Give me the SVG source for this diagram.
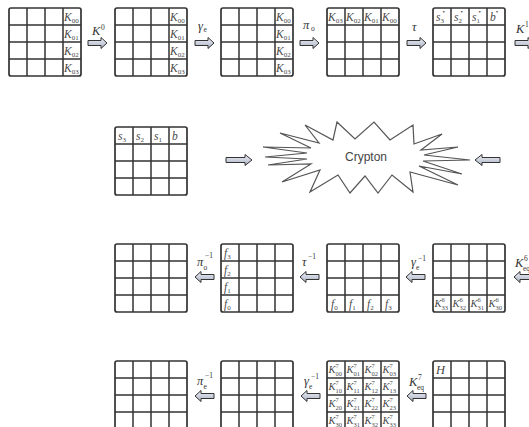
<svg xmlns="http://www.w3.org/2000/svg" xmlns:xlink="http://www.w3.org/1999/xlink" width="529" height="427" viewBox="0 0 529 427">
<style>
.k{font-family:"Liberation Serif",serif;font-style:italic;font-size:11.5px;fill:#4a4a4a}
.k7{font-family:"Liberation Serif",serif;font-style:italic;font-size:10.5px;fill:#4a4a4a}
.s{font-family:"Liberation Serif",serif;font-style:normal;font-size:7px;fill:#4a4a4a}
.s7{font-family:"Liberation Serif",serif;font-style:normal;font-size:6.5px;fill:#4a4a4a}
.l{font-family:"Liberation Serif",serif;font-style:italic;font-size:12.5px;fill:#333}
.ls{font-family:"Liberation Serif",serif;font-style:normal;font-size:7.5px;fill:#333}
.cr{font-family:"Liberation Sans",Arial,sans-serif;font-size:12px;fill:#444}
</style>
<defs>
<linearGradient id="ag" x1="0" y1="0" x2="0" y2="1"><stop offset="0" stop-color="#eef1f7"/><stop offset="1" stop-color="#a9b1c3"/></linearGradient>
<g id="grid"><rect x="0" y="0" width="72" height="68" rx="2" fill="#fff" stroke="#333" stroke-width="1.7"/><path d="M18 0V68M36 0V68M54 0V68M0 17H72M0 34H72M0 51H72" fill="none" stroke="#333" stroke-width="1.5"/></g>
<path id="aR" d="M0,-2.5H13V-5.5L19,0L13,5.5V2.5H0Z" fill="url(#ag)" stroke="#333" stroke-width="1"/>
<path id="aRL" d="M0,-2.5H19V-5.5L26,0L19,5.5V2.5H0Z" fill="url(#ag)" stroke="#333" stroke-width="1"/>
<path id="aL" d="M0,0L6,-5.5V-2.5H19V2.5H6V5.5Z" fill="url(#ag)" stroke="#333" stroke-width="1"/>
<path id="aLL" d="M0,0L7,-5.5V-2.5H25V2.5H7V5.5Z" fill="url(#ag)" stroke="#333" stroke-width="1"/>
</defs>
<rect width="529" height="427" fill="#fff"/>

<g id="g1"><use xlink:href="#grid" x="9" y="8"/>
<text class="k" x="64" y="20.5">K<tspan class="s" dy="2.5">00</tspan></text>
<text class="k" x="64" y="37.5">K<tspan class="s" dy="2.5">01</tspan></text>
<text class="k" x="64" y="54.5">K<tspan class="s" dy="2.5">02</tspan></text>
<text class="k" x="64" y="71.5">K<tspan class="s" dy="2.5">03</tspan></text>
</g>
<g id="g2"><use xlink:href="#grid" x="115" y="8"/>
<text class="k" x="170" y="20.5">K<tspan class="s" dy="2.5">00</tspan></text>
<text class="k" x="170" y="37.5">K<tspan class="s" dy="2.5">01</tspan></text>
<text class="k" x="170" y="54.5">K<tspan class="s" dy="2.5">02</tspan></text>
<text class="k" x="170" y="71.5">K<tspan class="s" dy="2.5">03</tspan></text>
</g>
<g id="g3"><use xlink:href="#grid" x="221" y="8"/>
<text class="k" x="276" y="20.5">K<tspan class="s" dy="2.5">00</tspan></text>
<text class="k" x="276" y="37.5">K<tspan class="s" dy="2.5">01</tspan></text>
<text class="k" x="276" y="54.5">K<tspan class="s" dy="2.5">02</tspan></text>
<text class="k" x="276" y="71.5">K<tspan class="s" dy="2.5">03</tspan></text>
</g>
<g id="g4"><use xlink:href="#grid" x="327" y="8"/>
<text class="k" x="328" y="20.5">K<tspan class="s" dy="2.5">03</tspan></text>
<text class="k" x="346" y="20.5">K<tspan class="s" dy="2.5">02</tspan></text>
<text class="k" x="364" y="20.5">K<tspan class="s" dy="2.5">01</tspan></text>
<text class="k" x="382" y="20.5">K<tspan class="s" dy="2.5">00</tspan></text>
</g>
<g id="g5"><use xlink:href="#grid" x="433" y="8"/>
<text class="k" x="436" y="20.5">s<tspan class="s" dy="2.5">3</tspan><tspan class="s" dx="-1.5" dy="-9">•</tspan></text>
<text class="k" x="454" y="20.5">s<tspan class="s" dy="2.5">2</tspan><tspan class="s" dx="-1.5" dy="-9">•</tspan></text>
<text class="k" x="472" y="20.5">s<tspan class="s" dy="2.5">1</tspan><tspan class="s" dx="-1.5" dy="-9">•</tspan></text>
<text class="k" x="490" y="20.5">b<tspan class="s" dy="-6.5">•</tspan></text>
</g>

<g id="g6"><use xlink:href="#grid" x="115" y="127"/>
<text class="k" x="118" y="139.5">s<tspan class="s" dy="2.5">3</tspan></text>
<text class="k" x="136" y="139.5">s<tspan class="s" dy="2.5">2</tspan></text>
<text class="k" x="154" y="139.5">s<tspan class="s" dy="2.5">1</tspan></text>
<text class="k" x="172" y="139.5">b</text>
</g>
<g id="crypton">
<polygon points="337,122 355,139 374,122 390,140 413,125 414,144 442,134 421,150 458,147 424,155 470,160 423,161 462,174 419,166 458,185 410,172 413,192 392,175 378,193 365,176 350,193 338,175 310,192 320,170 282,182 311,164 268,165 307,159 265,157 307,153 263,147 311,148 280,133 319,143 305,125 333,140" fill="#fff" stroke="#555" stroke-width="1.2" stroke-linejoin="miter"/>
<text class="cr" x="366" y="161" text-anchor="middle">Crypton</text>
</g>

<g id="g7"><use xlink:href="#grid" x="115" y="244"/></g>
<g id="g8"><use xlink:href="#grid" x="221" y="244"/>
<text class="k" x="224" y="256.5">f<tspan class="s" dy="2.5">3</tspan></text>
<text class="k" x="224" y="273.5">f<tspan class="s" dy="2.5">2</tspan></text>
<text class="k" x="224" y="290.5">f<tspan class="s" dy="2.5">1</tspan></text>
<text class="k" x="224" y="307.5">f<tspan class="s" dy="2.5">0</tspan></text>
</g>
<g id="g9"><use xlink:href="#grid" x="327" y="244"/>
<text class="k" x="331" y="307.5">f<tspan class="s" dy="2.5">0</tspan></text>
<text class="k" x="349" y="307.5">f<tspan class="s" dy="2.5">1</tspan></text>
<text class="k" x="367" y="307.5">f<tspan class="s" dy="2.5">2</tspan></text>
<text class="k" x="385" y="307.5">f<tspan class="s" dy="2.5">3</tspan></text>
</g>
<g id="g10"><use xlink:href="#grid" x="433" y="244"/>
<text class="k7" x="434.5" y="307">K</text><text class="s7" x="441.5" y="302">6</text><text class="s7" x="441.5" y="310">33</text>
<text class="k7" x="452.5" y="307">K</text><text class="s7" x="459.5" y="302">6</text><text class="s7" x="459.5" y="310">32</text>
<text class="k7" x="470.5" y="307">K</text><text class="s7" x="477.5" y="302">6</text><text class="s7" x="477.5" y="310">31</text>
<text class="k7" x="488.5" y="307">K</text><text class="s7" x="495.5" y="302">6</text><text class="s7" x="495.5" y="310">30</text>
</g>

<g id="g11"><use xlink:href="#grid" x="115" y="361"/></g>
<g id="g12"><use xlink:href="#grid" x="221" y="361"/></g>
<g id="g13"><use xlink:href="#grid" x="327" y="361"/>
<text class="k7" x="328.5" y="373">K</text><text class="s7" x="335.5" y="368">7</text><text class="s7" x="335.5" y="376">00</text>
<text class="k7" x="346.5" y="373">K</text><text class="s7" x="353.5" y="368">7</text><text class="s7" x="353.5" y="376">01</text>
<text class="k7" x="364.5" y="373">K</text><text class="s7" x="371.5" y="368">7</text><text class="s7" x="371.5" y="376">02</text>
<text class="k7" x="382.5" y="373">K</text><text class="s7" x="389.5" y="368">7</text><text class="s7" x="389.5" y="376">03</text>
<text class="k7" x="328.5" y="390">K</text><text class="s7" x="335.5" y="385">7</text><text class="s7" x="335.5" y="393">10</text>
<text class="k7" x="346.5" y="390">K</text><text class="s7" x="353.5" y="385">7</text><text class="s7" x="353.5" y="393">11</text>
<text class="k7" x="364.5" y="390">K</text><text class="s7" x="371.5" y="385">7</text><text class="s7" x="371.5" y="393">12</text>
<text class="k7" x="382.5" y="390">K</text><text class="s7" x="389.5" y="385">7</text><text class="s7" x="389.5" y="393">13</text>
<text class="k7" x="328.5" y="407">K</text><text class="s7" x="335.5" y="402">7</text><text class="s7" x="335.5" y="410">20</text>
<text class="k7" x="346.5" y="407">K</text><text class="s7" x="353.5" y="402">7</text><text class="s7" x="353.5" y="410">21</text>
<text class="k7" x="364.5" y="407">K</text><text class="s7" x="371.5" y="402">7</text><text class="s7" x="371.5" y="410">22</text>
<text class="k7" x="382.5" y="407">K</text><text class="s7" x="389.5" y="402">7</text><text class="s7" x="389.5" y="410">23</text>
<text class="k7" x="328.5" y="424">K</text><text class="s7" x="335.5" y="419">7</text><text class="s7" x="335.5" y="427">30</text>
<text class="k7" x="346.5" y="424">K</text><text class="s7" x="353.5" y="419">7</text><text class="s7" x="353.5" y="427">31</text>
<text class="k7" x="364.5" y="424">K</text><text class="s7" x="371.5" y="419">7</text><text class="s7" x="371.5" y="427">32</text>
<text class="k7" x="382.5" y="424">K</text><text class="s7" x="389.5" y="419">7</text><text class="s7" x="389.5" y="427">33</text>
</g>
<g id="g14"><use xlink:href="#grid" x="433" y="361"/>
<text class="k" x="436" y="374" style="font-size:12.5px">H</text>
</g>

<g id="connectors">
<use xlink:href="#aR" x="88" y="43"/>
<text class="l" x="92" y="35">K</text><text class="ls" x="101" y="30">0</text>
<use xlink:href="#aR" x="195" y="43"/>
<text class="l" x="198" y="30">γ</text><text class="ls" x="203.5" y="32">e</text>
<use xlink:href="#aR" x="300" y="43"/>
<text class="l" x="303" y="29">π</text><text class="ls" x="311" y="31">o</text>
<use xlink:href="#aR" x="407" y="43"/>
<text class="l" x="412" y="31">τ</text>
<use xlink:href="#aR" x="515" y="43"/>
<text class="l" x="516" y="33">K</text><text class="ls" x="525" y="27">1</text>

<use xlink:href="#aRL" x="226" y="160"/>
<use xlink:href="#aLL" x="475" y="160"/>

<use xlink:href="#aL" x="195" y="277"/>
<text class="l" x="197" y="266">π</text><text class="ls" x="205" y="258">−1</text><text class="ls" x="203.5" y="270">o</text>
<use xlink:href="#aL" x="300" y="277"/>
<text class="l" x="302" y="266">τ</text><text class="ls" x="308" y="259">−1</text>
<use xlink:href="#aL" x="406" y="277"/>
<text class="l" x="411" y="266">γ</text><text class="ls" x="418" y="261">−1</text><text class="ls" x="416" y="270">e</text>
<use xlink:href="#aL" x="514" y="277"/>
<text class="l" x="515" y="267">K</text><text class="ls" x="524" y="261">6</text><text class="ls" x="523" y="271">eq</text>

<use xlink:href="#aL" x="195" y="396"/>
<text class="l" x="197" y="385">π</text><text class="ls" x="205" y="378">−1</text><text class="ls" x="203.5" y="389">e</text>
<use xlink:href="#aL" x="301" y="396"/>
<text class="l" x="304" y="385">γ</text><text class="ls" x="311" y="379">−1</text><text class="ls" x="309" y="389">e</text>
<use xlink:href="#aL" x="407" y="396"/>
<text class="l" x="409" y="386">K</text><text class="ls" x="418" y="380">7</text><text class="ls" x="417" y="390">eq</text>
</g>
</svg>
